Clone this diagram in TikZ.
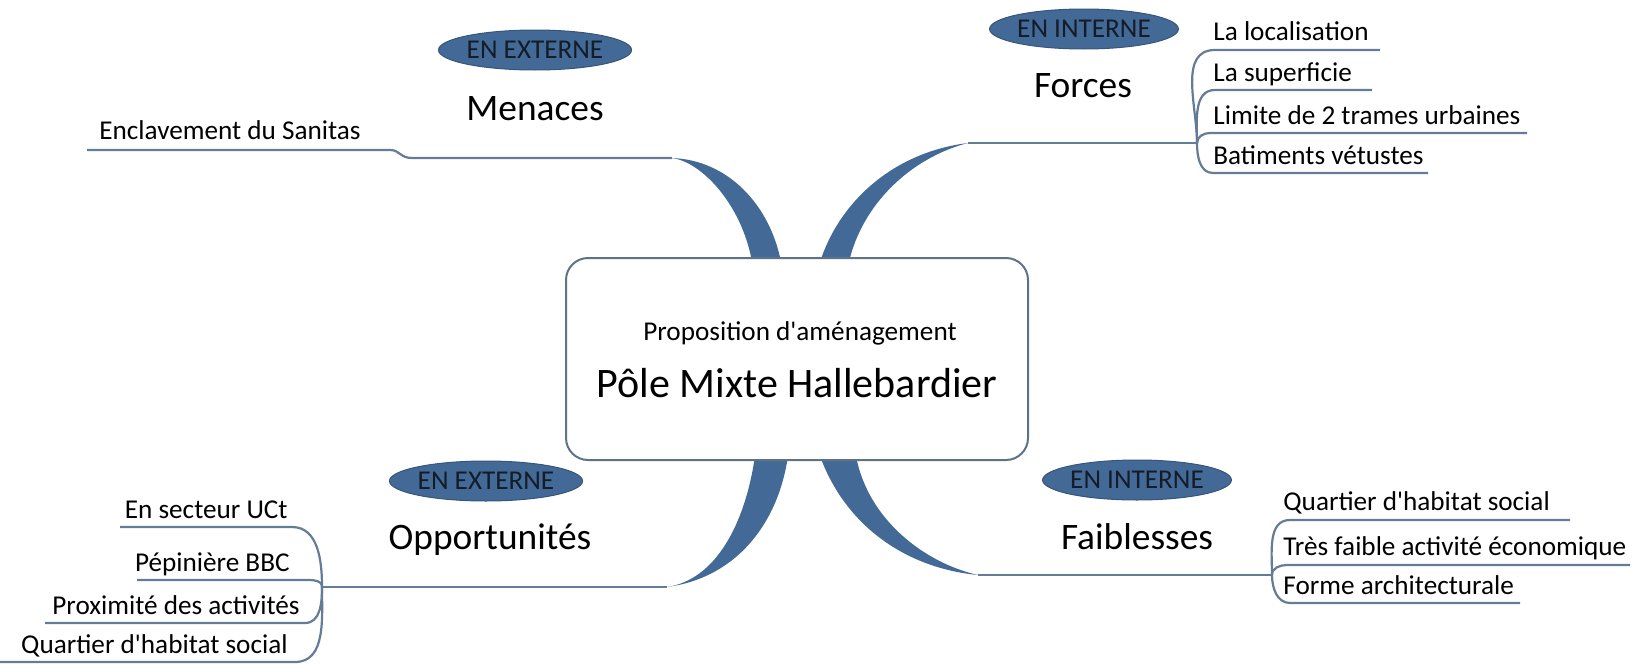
\documentclass[tikz,border=0pt]{standalone}
\usepackage{fontspec}
\setmainfont{Carlito}[Ligatures=TeXOff]
\usetikzlibrary{shapes.geometric}
\definecolor{bfill}{RGB}{67,106,150}
\definecolor{bline}{RGB}{100,124,150}
\definecolor{boxline}{RGB}{95,115,135}
\definecolor{tagtext}{RGB}{20,28,40}
\begin{document}
\begin{tikzpicture}[x=0.5pt,y=-0.5pt,
  leaf/.style={font=\fontsize{13.6}{16}\selectfont, inner sep=0pt, anchor=base west},
  leafr/.style={leaf, anchor=base east},
  title/.style={font=\fontsize{18.7}{22}\selectfont, inner sep=0pt, anchor=base},
  tag/.style={ellipse, fill=bfill, draw=bfill!80!black, line width=0.5pt, minimum width=88pt, minimum height=20pt, inner sep=0pt, font=\fontsize{13.6}{16}\selectfont, text=tagtext},
  conn/.style={draw=bline, line width=1.1pt},
  band/.style={fill=bfill}]
\useasboundingbox (0,0) rectangle (1649,664);

% junction coordinates
\coordinate (ml) at (672,158);
\coordinate (fr0) at (968,143);
\coordinate (fr) at (1197,143);
\coordinate (ob0) at (667,587);
\coordinate (ob) at (322,587);
\coordinate (fb0) at (978,575);
\coordinate (fb) at (1272,575);

% tapered branches
\fill[band] (ml) .. controls (702,162) and (742,205) .. (752,262) -- (781,262) .. controls (770,205) and (728,160) .. (ml) -- cycle;
\fill[band] (820,262) .. controls (840,200) and (895,152) .. (fr0) .. controls (910,158) and (862,205) .. (849,262) -- cycle;
\fill[band] (755,456) .. controls (745,525) and (715,580) .. (ob0) .. controls (735,578) and (778,525) .. (788,456) -- cycle;
\fill[band] (820,456) .. controls (845,525) and (905,568) .. (fb0) .. controls (925,563) and (868,520) .. (856,456) -- cycle;

% central node
\node[draw=boxline, line width=1pt, rounded corners=11pt, fill=white, minimum width=231pt, minimum height=101pt, inner sep=0pt] (core) at (797,359) {};
\node[font=\fontsize{13.6}{16}\selectfont, anchor=base, inner sep=0pt] (prop) at (800,340) {Proposition d'aménagement};
\node[font=\fontsize{21}{25}\selectfont, anchor=base, inner sep=0pt] (pole) at (797,397) {Pôle Mixte Hallebardier};

% tags and titles
\node[tag] (e1) at (535,50) {EN EXTERNE};
\node[tag] (e2) at (1084,29) {EN INTERNE};
\node[tag] (e3) at (486,481) {EN EXTERNE};
\node[tag] (e4) at (1137,480) {EN INTERNE};
\node[title] (menaces) at (535,120) {Menaces};
\node[title] (forces) at (1083,97) {Forces};
\node[title] (opp) at (490,549) {Opportunités};
\node[title] (faib) at (1137,549) {Faiblesses};

% Menaces
\node[leaf] (m1) at (99,139) {Enclavement du Sanitas};
\draw[conn] (87,150) -- (390,150) .. controls (400,150) and (400,158) .. (412,158) -- (ml);

% Forces
\draw[conn] (fr0) -- (fr);
\node[leaf] (f1) at (1213,40) {La localisation};
\node[leaf] (f2) at (1213,81) {La superficie};
\node[leaf] (f3) at (1213,124) {Limite de 2 trames urbaines};
\node[leaf] (f4) at (1213,164) {Batiments vétustes};
\draw[conn] (fr) to[out=90,in=180] (1215,50) -- (1380,50);
\draw[conn] (fr) to[out=90,in=180] (1215,90) -- (1372,90);
\draw[conn] (fr) to[out=90,in=180] (1210,133) -- (1527,133);
\draw[conn] (fr) to[out=-90,in=180] (1213,173) -- (1428,173);

% Opportunites
\draw[conn] (ob0) -- (ob);
\node[leafr] (o1) at (288,518) {En secteur UCt};
\node[leafr] (o2) at (290,571) {Pépinière BBC};
\node[leafr] (o3) at (300,614) {Proximité des activités};
\node[leafr] (o4) at (288,653) {Quartier d'habitat social};
\draw[conn] (ob) to[out=90,in=0] (292,527) -- (120,527);
\draw[conn] (ob) to[out=90,in=0] (305,580) -- (137,580);
\draw[conn] (ob) to[out=-90,in=0] (305,623) -- (45,623);
\draw[conn] (ob) to[out=-90,in=0] (295,662) -- (0,662);

% Faiblesses
\draw[conn] (fb0) -- (fb);
\node[leaf] (w1) at (1283,510) {Quartier d'habitat social};
\node[leaf] (w2) at (1283,555) {Très faible activité économique};
\node[leaf] (w3) at (1283,594) {Forme architecturale};
\draw[conn] (fb) to[out=90,in=180] (1290,520) -- (1570,520);
\draw[conn] (fb) to[out=90,in=180] (1287,565) -- (1630,565);
\draw[conn] (fb) to[out=-90,in=180] (1290,603) -- (1520,603);
\end{tikzpicture}
\end{document}
